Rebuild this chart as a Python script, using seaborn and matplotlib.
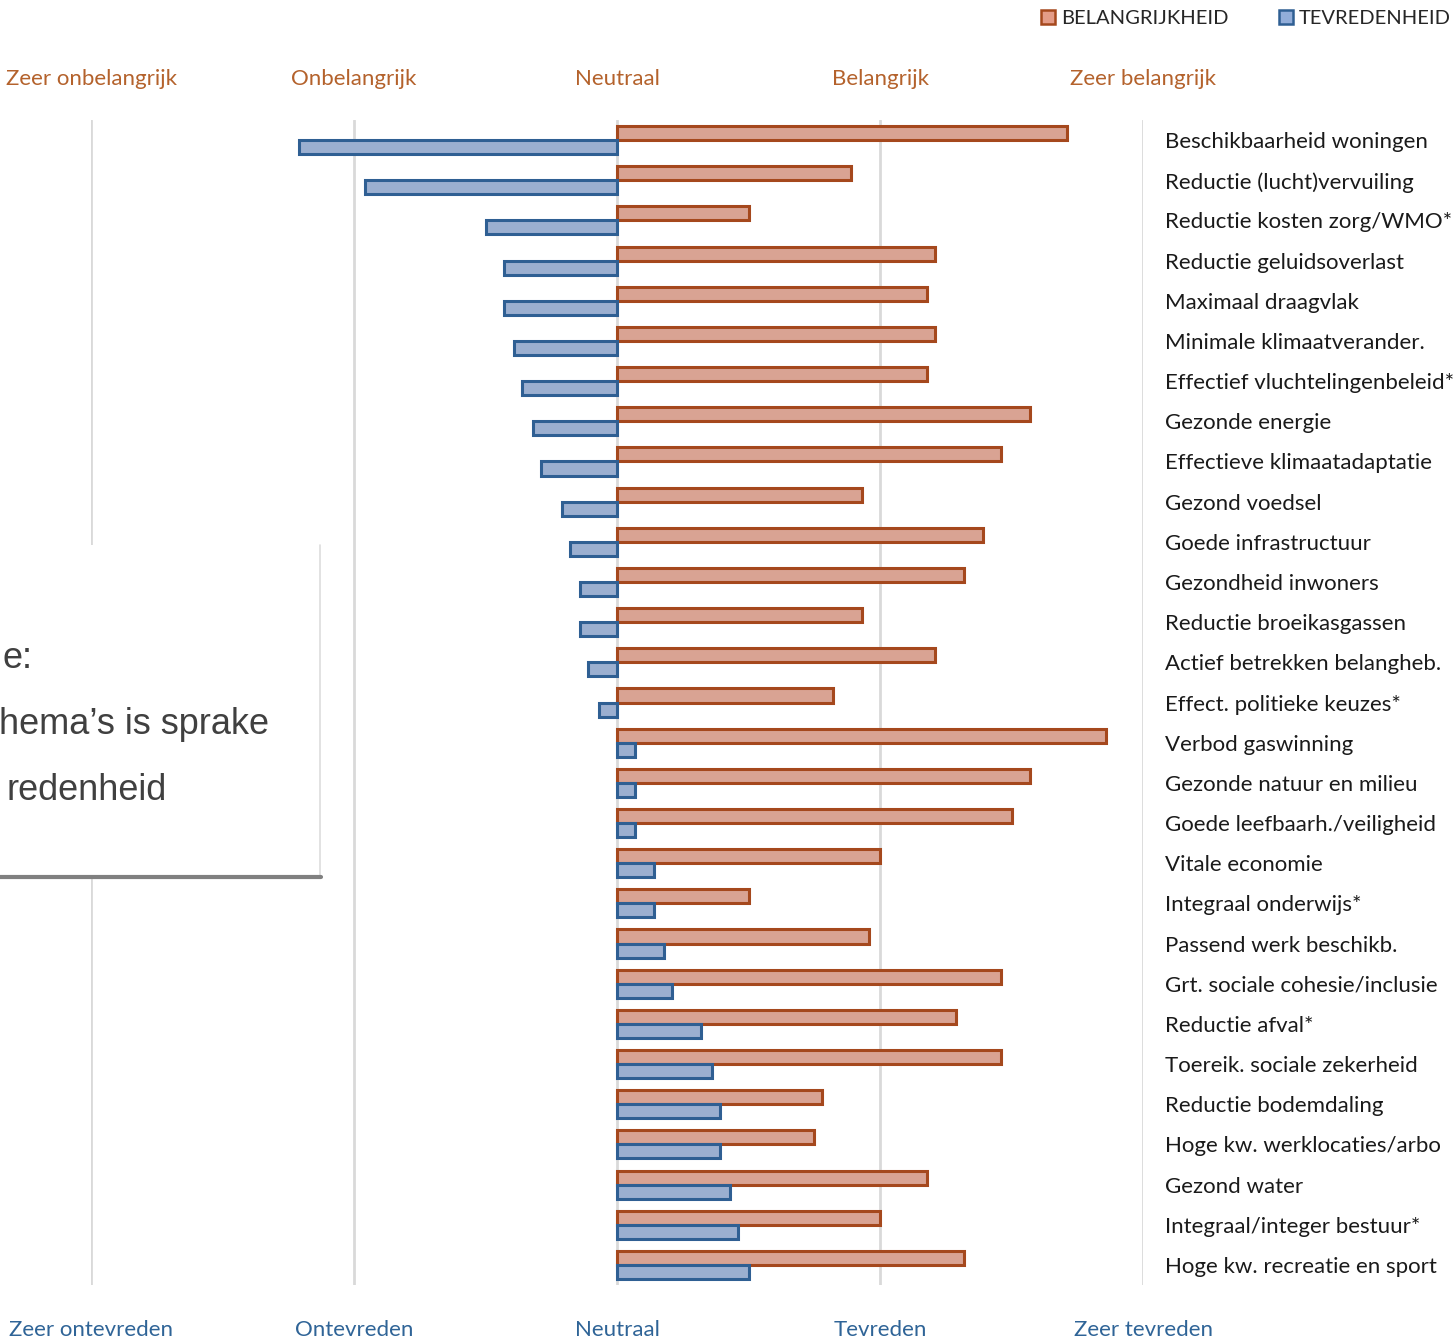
import matplotlib
matplotlib.use("Agg")

import pandas as pd
import matplotlib.pyplot as plt
from matplotlib.patches import Patch, Rectangle
from matplotlib.lines import Line2D
import seaborn as sns


# 1. Data
# -------------------------------
themes = [
    "Beschikbaarheid woningen", "Reductie (lucht)vervuiling", "Reductie kosten zorg/WMO*",
    "Reductie geluidsoverlast", "Maximaal draagvlak", "Minimale klimaatverander.",
    "Effectief vluchtelingenbeleid*", "Gezonde energie", "Effectieve klimaatadaptatie",
    "Gezond voedsel", "Goede infrastructuur", "Gezondheid inwoners",
    "Reductie broeikasgassen", "Actief betrekken belangheb.", "Effect. politieke keuzes*",
    "Verbod gaswinning", "Gezonde natuur en milieu", "Goede leefbaarh./veiligheid",
    "Vitale economie", "Integraal onderwijs*", "Passend werk beschikb.",
    "Grt. sociale cohesie/inclusie", "Reductie afval*", "Toereik. sociale zekerheid",
    "Reductie bodemdaling", "Hoge kw. werklocaties/arbo", "Gezond water",
    "Integraal/integer bestuur*", "Hoge kw. recreatie en sport",
]

belangrijkheid = [1.71, 0.89, 0.50, 1.21, 1.18, 1.21, 1.18, 1.57, 1.46, 0.93,
                  1.39, 1.32, 0.93, 1.21, 0.82, 1.86, 1.57, 1.50, 1.00, 0.50,
                  0.96, 1.46, 1.29, 1.46, 0.78, 0.75, 1.18, 1.00, 1.32]

tevredenheid = [-1.21, -0.96, -0.50, -0.43, -0.43, -0.39, -0.36, -0.32, -0.29, -0.21,
                -0.18, -0.14, -0.14, -0.11, -0.07, 0.07, 0.07, 0.07, 0.14, 0.14,
                0.18, 0.21, 0.32, 0.36, 0.39, 0.39, 0.43, 0.46, 0.50]

scale_pos = [-2, -1, 0, 1, 2]
top_labels = ["Zeer onbelangrijk", "Onbelangrijk", "Neutraal", "Belangrijk", "Zeer belangrijk"]
bottom_labels = ["Zeer ontevreden", "Ontevreden", "Neutraal", "Tevreden", "Zeer tevreden"]

series = ["BELANGRIJKHEID", "TEVREDENHEID"]

# visible part of the overlapping note (it runs off the left edge in the source)
note_lines = ["e:", "hema’s is sprake", "redenheid"]

df = pd.DataFrame({
    "thema": themes * 2,
    "score": belangrijkheid + tevredenheid,
    "reeks": [series[0]] * len(themes) + [series[1]] * len(themes),
})


# 2. Style
# -------------------------------
sns.set_style("white")
plt.rcParams["font.family"] = ["Lato", "DejaVu Sans"]

fill_cols = {"BELANGRIJKHEID": "#E49C88", "TEVREDENHEID": "#92ADD9"}
edge_cols = {"BELANGRIJKHEID": "#A5481D", "TEVREDENHEID": "#2F5F93"}
top_col = "#B4622C"
bottom_col = "#2F6497"
grid_col = "#D9D9D9"

W, H = 1453, 1339
fig = plt.figure(figsize=(W / 100, H / 100), dpi=100)
ax = fig.add_axes([91 / W, (H - 1285) / H, (1143 - 91) / W, (1285 - 120) / H])


# 3. Bars
# -------------------------------
sns.barplot(data=df, y="thema", x="score", hue="reeks", hue_order=series,
            palette=fill_cols, orient="h", width=0.7, dodge=True,
            legend=False, ax=ax, zorder=3)

for cont, name in zip(ax.containers, series):
    for bar in cont:
        bar.set_edgecolor(edge_cols[name])
        bar.set_linewidth(2.2)

for x in scale_pos:
    ax.axvline(x, color=grid_col, lw=2, zorder=1)

ax.set_xlim(-2, 2)
ax.set_ylim(len(themes) - 0.5, -0.5)
sns.despine(ax=ax, left=True, bottom=True, right=True, top=True)

# category names on the right
ax.yaxis.tick_right()
ax.tick_params(axis="y", length=0, pad=16, labelsize=16, labelcolor="#1a1a1a")
ax.set_ylabel("")

# scale labels bottom (satisfaction) and top (importance)
ax.set_xticks(scale_pos)
ax.set_xticklabels(bottom_labels)
ax.tick_params(axis="x", length=0, pad=25, labelsize=16, labelcolor=bottom_col)
ax.set_xlabel("")

top = ax.secondary_xaxis("top")
top.set_xticks(scale_pos)
top.set_xticklabels(top_labels)
top.tick_params(axis="x", length=0, pad=22, labelsize=16, labelcolor=top_col)
top.spines["top"].set_visible(False)


# 4. Legend
# -------------------------------
handles = [Patch(facecolor=fill_cols[s], edgecolor=edge_cols[s], lw=1.8, label=s) for s in series]
fig.legend(handles=handles, loc="upper right", bbox_to_anchor=(1.0, 1.0 - 8 / H), ncol=2,
           frameon=False, fontsize=14.5, handlelength=0.7, handleheight=0.7,
           handletextpad=0.3, columnspacing=2.5, borderaxespad=0.0, borderpad=0.1)


# 5. Overlapping text box (cut off at the left edge)
# -------------------------------
box = Rectangle((0, (H - 878) / H), 320 / W, (878 - 545) / H, transform=fig.transFigure,
                facecolor="white", edgecolor="none", zorder=10)
fig.patches.append(box)
fig.add_artist(Line2D([320 / W, 320 / W], [(H - 878) / H, (H - 545) / H],
                      transform=fig.transFigure, color="#DDDDDD", lw=1.2, zorder=11))
fig.add_artist(Line2D([0, 321 / W], [(H - 877) / H, (H - 877) / H],
                      transform=fig.transFigure, color="#808080", lw=3, zorder=11))

note_x = [2, 269, 167]
note_ha = ["left", "right", "right"]
note_y = [658, 724, 791]
for txt, xr, ha, yc in zip(note_lines, note_x, note_ha, note_y):
    fig.text(xr / W, (H - yc) / H, txt, ha=ha, va="center", fontsize=26,
             color="#404040", family=["Liberation Sans", "DejaVu Sans"], zorder=12)

plt.savefig("out.png", dpi=100)
